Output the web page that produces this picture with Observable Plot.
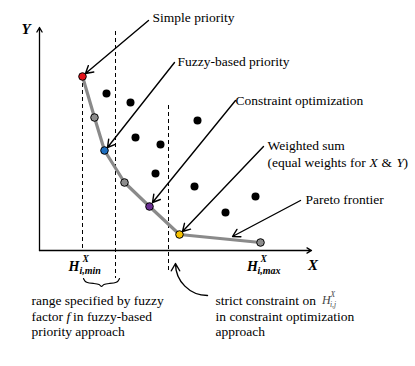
<!DOCTYPE html>
<html>
<head>
<meta charset="utf-8">
<script src="https://cdn.jsdelivr.net/npm/d3@7"></script>
<script src="https://cdn.jsdelivr.net/npm/@observablehq/plot@0.6"></script>
<style>
  html, body { margin: 0; padding: 0; background: #fff; }
  #chart svg { display: block; }
  #chart svg text { font-family: "Liberation Serif", "Times New Roman", serif; }
</style>
</head>
<body>
<div id="chart"></div>
<script>
// Pareto frontier solutions (abstract X, Y units)
const frontierX = [1.72, 2.2, 2.6, 3.4, 4.4, 5.6, 8.84];
const frontierY = [8.7, 6.65, 5.0, 3.4, 2.2, 0.8, 0.4];
const frontierColors = ["#e3131b", "#8c8c8c", "#1f6fc0", "#8c8c8c", "#6b2f93", "#f7c200", "#8c8c8c"];

// Dominated solutions
const otherX = [2.68, 3.64, 6.32, 3.84, 4.84, 4.64, 6.2, 8.64, 7.44];
const otherY = [7.85, 7.4, 6.5, 5.65, 5.3, 3.85, 3.2, 2.7, 1.9];

// Dashed guide lines
const guideX = [1.72, 3.04, 5.16];
const guideTop = [8.7, 10.95, 7.25];
const guideBottom = [0, -1.4, -1.15];

// Annotation labels and their arrows
const annLabels = ["Simple priority", "Fuzzy-based priority", "Constraint optimization", "Weighted sum", "Pareto frontier"];
const annTextX = [4.52, 5.52, 7.84, 9.12, 10.64];
const annTextY = [11.65, 9.45, 7.5, 5.25, 2.55];
const arrowX1 = [4.36, 5.4, 7.84, 8.96, 10.44];
const arrowY1 = [11.5, 9.4, 7.5, 5.2, 2.5];
const arrowX2 = [1.84, 2.72, 4.52, 5.72, 7.72];
const arrowY2 = [8.85, 5.15, 2.4, 0.95, 0.7];

// Second line of "Weighted sum" label (pieces; italic flags)
const wsParts = ["(equal weights for", "X", "&", "Y", ")"];
const wsItalic = [false, true, false, true, false];
const wsX = [9.12, 13.2, 13.68, 14.28, 14.56];
const wsY = 4.4;

// Bottom notes
const leftNote = ["range specified by fuzzy", "priority approach"];
const leftNoteY = [-2.5, -4.05];
const leftMidParts = ["factor", "f", "in fuzzy-based"];
const leftMidItalic = [false, true, false];
const leftMidX = [-0.32, 1.08, 1.34];
const rightNote = ["strict constraint on", "in constraint optimization", "approach"];
const noteY = [-2.5, -3.3, -4.05];

// Brace under the fuzzy range
const braceX = [1.76, 1.84, 2.2, 2.4, 2.48, 2.56, 2.76, 3.12, 3.2];
const braceY = [-1.4, -1.62, -1.65, -1.68, -1.85, -1.68, -1.65, -1.62, -1.4];

const serif = "Liberation Serif";

const frontier = frontierX.map((x, i) => ({x, y: frontierY[i], c: frontierColors[i]}));
const others = otherX.map((x, i) => ({x, y: otherY[i]}));
const guides = guideX.map((x, i) => ({x, y1: guideTop[i], y2: guideBottom[i]}));
const anns = annLabels.map((t, i) => ({t, x: annTextX[i], y: annTextY[i]}));
const arrows = arrowX1.map((x1, i) => ({x1, y1: arrowY1[i], x2: arrowX2[i], y2: arrowY2[i]}));
const brace = braceX.map((x, i) => ({x, y: braceY[i]}));
const ws = wsParts.map((t, i) => ({t, x: wsX[i], it: wsItalic[i]}));
const leftMid = leftMidParts.map((t, i) => ({t, x: leftMidX[i], it: leftMidItalic[i]}));

const T = (data, opts) => Plot.text(data, {textAnchor: "start", fill: "black", fontFamily: serif, ...opts});

const chart = Plot.plot({
  width: 415,
  height: 366,
  margin: 0,
  x: {domain: [0, 10], range: [39, 289], axis: null},
  y: {domain: [0, 10], range: [250, 50], axis: null},
  style: {fontFamily: serif, background: "#fff"},
  marks: [
    // axes
    Plot.arrow([{x1: 0, y1: 0, x2: 0, y2: 11.15}], {x1: "x1", y1: "y1", x2: "x2", y2: "y2", stroke: "black", strokeWidth: 1.3, headLength: 6}),
    Plot.arrow([{x1: 0, y1: 0, x2: 10.88, y2: 0}], {x1: "x1", y1: "y1", x2: "x2", y2: "y2", stroke: "black", strokeWidth: 1.3, headLength: 6}),
    // dashed guides
    Plot.ruleX(guides, {x: "x", y1: "y1", y2: "y2", stroke: "black", strokeWidth: 1, strokeDasharray: "4,3"}),
    // brace
    Plot.line(brace, {x: "x", y: "y", curve: "basis", stroke: "black", strokeWidth: 1.2}),
    // frontier line
    Plot.line(frontier, {x: "x", y: "y", stroke: "#8a8a8a", strokeWidth: 3.2}),
    // dominated points
    Plot.dot(others, {x: "x", y: "y", r: 4, fill: "black"}),
    // frontier points
    Plot.dot(frontier, {x: "x", y: "y", r: 3.8, fill: "c", stroke: "black", strokeWidth: 1}),
    // annotation arrows
    Plot.arrow(arrows, {x1: "x1", y1: "y1", x2: "x2", y2: "y2", stroke: "black", strokeWidth: 1.4, headLength: 9}),
    Plot.arrow([{x1: 6.72, y1: -2.25, x2: 5.44, y2: -0.65}], {x1: "x1", y1: "y1", x2: "x2", y2: "y2", bend: 45, stroke: "black", strokeWidth: 1.4, headLength: 9}),
    // annotation labels
    T(anns, {x: "x", y: "y", text: "t", fontSize: 13.5}),
    T(ws.filter(d => !d.it), {x: "x", y: wsY, text: "t", fontSize: 13.5}),
    T(ws.filter(d => d.it), {x: "x", y: wsY, text: "t", fontSize: 13.5, fontStyle: "italic"}),
    // axis labels
    T(["Y"], {x: -0.72, y: 11.05, text: d => d, fontSize: 15, fontWeight: "bold", fontStyle: "italic"}),
    T(["X"], {x: 10.74, y: -0.72, text: d => d, fontSize: 15, fontWeight: "bold", fontStyle: "italic"}),
    // H min / max labels
    T(["H", "H"], {x: [1.16, 8.3], y: [-0.8, -0.8], text: d => d, fontSize: 14, fontWeight: "bold", fontStyle: "italic"}),
    T(["X", "X"], {x: [1.72, 8.84], y: [-0.42, -0.42], text: d => d, fontSize: 9.5, fontWeight: "bold", fontStyle: "italic"}),
    T(["i,min", "i,max"], {x: [1.6, 8.72], y: [-1.02, -1.02], text: d => d, fontSize: 10, fontWeight: "bold", fontStyle: "italic"}),
    // bottom notes
    T(leftNote, {x: -0.32, y: (d, i) => leftNoteY[i], text: d => d, fontSize: 13.5}),
    T(leftMid.filter(d => !d.it), {x: "x", y: -3.3, text: "t", fontSize: 13.5}),
    T(leftMid.filter(d => d.it), {x: "x", y: -3.3, text: "t", fontSize: 13.5, fontStyle: "italic"}),
    T(rightNote, {x: 7.04, y: (d, i) => noteY[i], text: d => d, fontSize: 13.5}),
    T(["H"], {x: 11.3, y: -2.5, text: d => d, fontSize: 12, fontStyle: "italic", fill: "#444"}),
    T(["X"], {x: 11.64, y: -2.2, text: d => d, fontSize: 7.5, fontStyle: "italic", fill: "#444"}),
    T(["i,j"], {x: 11.62, y: -2.72, text: d => d, fontSize: 7.5, fontStyle: "italic", fill: "#444"})
  ]
});
document.getElementById("chart").appendChild(chart);
</script>
</body>
</html>
